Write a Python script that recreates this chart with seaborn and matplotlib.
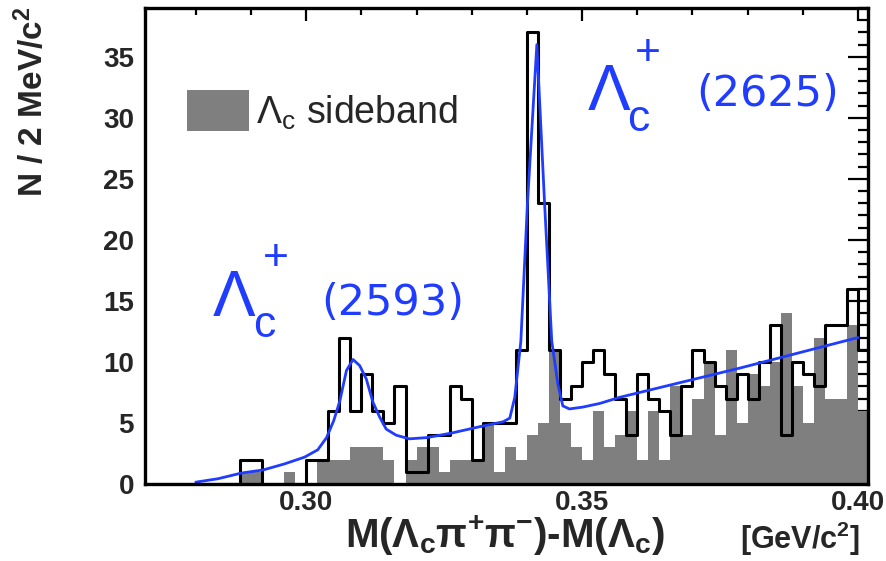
import numpy as np
import pandas as pd
import matplotlib
matplotlib.use("Agg")
import matplotlib.pyplot as plt
import seaborn as sns
from matplotlib.patches import Patch
from matplotlib.ticker import MultipleLocator, FormatStrFormatter

# ---------------- data ----------------
bin_start = 0.270
bin_width = 0.002
data_counts = [0, 0, 0, 0, 0, 0, 0, 0, 0, 2, 2, 0, 0, 0, 0,
               2, 2, 6, 12, 6, 9, 6, 5, 8, 1, 1, 4, 4, 8, 7, 2,
               5, 5, 5, 11, 37, 23, 11, 7, 8, 10, 11, 9, 7, 4, 9,
               7, 6, 4, 8, 11, 10, 8, 7, 9, 7, 10, 13, 4, 10, 9,
               8, 13, 13, 16, 11]
sideband_counts = [0, 0, 0, 0, 0, 0, 0, 0, 0, 1, 1, 0, 0, 1, 0,
                   0, 2, 2, 2, 3, 3, 3, 2, 0, 2, 3, 3, 1, 2, 2, 2,
                   5, 1, 3, 2, 4, 5, 11, 5, 3, 2, 6, 3, 4, 6, 2,
                   6, 2, 8, 4, 7, 10, 4, 11, 5, 9, 8, 10, 14, 8, 5,
                   12, 7, 7, 13, 6]
fit_x = [0.2800, 0.2840, 0.2883, 0.2922, 0.2961, 0.2997, 0.3021, 0.3037,
         0.3050, 0.3061, 0.3073, 0.3085, 0.3097, 0.3109, 0.3121, 0.3133,
         0.3145, 0.3163, 0.3187, 0.3218, 0.3243, 0.3266, 0.3315, 0.3357,
         0.3369, 0.3378, 0.3389, 0.3401, 0.3418, 0.3432, 0.3445, 0.3456,
         0.3465, 0.3477, 0.3501, 0.3532, 0.3568, 0.3786, 0.4000]
fit_y = [0.15, 0.43, 0.9, 1.15, 1.65, 2.2, 2.8, 3.8,
         5.2, 6.8, 9.3, 10.2, 9.7, 8.6, 6.7, 5.5,
         4.5, 4.0, 3.7, 3.8, 4.0, 4.2, 4.7, 5.1,
         5.4, 7.1, 11.7, 23.0, 36.0, 23.0, 11.7, 8.2,
         6.4, 6.15, 6.3, 6.6, 7.1, 9.5, 12.0]
x_ticks = [0.30, 0.35, 0.40]
y_ticks = [0, 5, 10, 15, 20, 25, 30, 35]

n_bins = len(data_counts)
bin_end = bin_start + bin_width * n_bins
centers = bin_start + bin_width * (np.arange(n_bins) + 0.5)
df = pd.DataFrame({"x": centers, "data": data_counts, "side": sideband_counts})
fit_df = pd.DataFrame({"x": fit_x, "y": fit_y})

# ---------------- style ----------------
sns.set_style("white")
plt.rcParams["font.family"] = ["Liberation Sans", "DejaVu Sans"]
plt.rcParams["mathtext.fontset"] = "custom"
plt.rcParams["mathtext.rm"] = "Liberation Sans"
plt.rcParams["mathtext.it"] = "Liberation Sans:italic"
plt.rcParams["mathtext.bf"] = "Liberation Sans:bold"
plt.rcParams["mathtext.default"] = "rm"

W, H = 886, 561
fig = plt.figure(figsize=(W / 100, H / 100), dpi=100)
L, R, T, B = 145, 868, 8, 484
ax = fig.add_axes([L / W, 1 - B / H, (R - L) / W, (B - T) / H])

blue = "#1f3cff"

sns.histplot(data=df, x="x", weights="side", bins=n_bins,
             binrange=(bin_start, bin_end), element="step",
             fill=True, color="#7f7f7f", alpha=1.0, linewidth=0, ax=ax)
sns.histplot(data=df, x="x", weights="data", bins=n_bins,
             binrange=(bin_start, bin_end), element="step",
             fill=False, color="black", linewidth=2.2, ax=ax)
sns.lineplot(data=fit_df, x="x", y="y", color=blue, linewidth=2.0, ax=ax)

ax.set_xlim(0.2708, 0.4018)
ax.set_ylim(0, 39.0)
ax.set_xlabel("")
ax.set_ylabel("")

ax.set_xticks(x_ticks)
ax.set_yticks(y_ticks)
ax.xaxis.set_minor_locator(MultipleLocator(0.01))
ax.yaxis.set_minor_locator(MultipleLocator(1))
ax.xaxis.set_major_formatter(FormatStrFormatter("%.2f"))
ax.tick_params(which="both", direction="in", top=True, right=True,
               width=1.6, color="black")
ax.tick_params(axis="x", which="major", length=9.5, pad=4)
ax.tick_params(axis="x", which="minor", length=4.7)
ax.tick_params(axis="y", which="major", length=14.5, pad=8)
ax.tick_params(axis="y", which="minor", length=7.2)
for lab in ax.get_xticklabels() + ax.get_yticklabels():
    lab.set_fontsize(20)
    lab.set_fontweight("bold")
for s in ax.spines.values():
    s.set_linewidth(2.4)
    s.set_color("black")
    s.set_visible(True)

# legend
leg = ax.legend(handles=[Patch(facecolor="#7f7f7f", edgecolor="none",
                               label=r"$\Lambda_{\rm c}$ sideband")],
                loc="center left",
                bbox_to_anchor=((187 - L) / (R - L), 1 - (111 - T) / (B - T)),
                frameon=False, fontsize=27, handlelength=1.65,
                handleheight=1.3, handletextpad=0.2, borderpad=0,
                borderaxespad=0)

def fx(px):
    return px / W

def fy(py):
    return 1 - py / H

# peak annotations
fig.text(fx(588), fy(110), "Λ", color=blue, fontsize=46, va="baseline", ha="left")
fig.text(fx(627), fy(131), "c", color=blue, fontsize=32, va="baseline", ha="left")
fig.text(fx(648), fy(54), "+", color=blue, fontsize=32, va="center", ha="center")
fig.text(fx(696), fy(106), "(2625)", color=blue, fontsize=31, va="baseline",
         ha="left", family="DejaVu Sans")

fig.text(fx(213), fy(316), "Λ", color=blue, fontsize=46, va="baseline", ha="left")
fig.text(fx(253), fy(337), "c", color=blue, fontsize=32, va="baseline", ha="left")
fig.text(fx(276), fy(258), "+", color=blue, fontsize=32, va="center", ha="center")
fig.text(fx(321), fy(315), "(2593)", color=blue, fontsize=31, va="baseline",
         ha="left", family="DejaVu Sans")

# axis titles
fig.text(fx(32), fy(6), r"N / 2 MeV/c$^{\mathbf{2}}$", rotation=90,
         fontsize=24, fontweight="bold", ha="center", va="top")
fig.text(fx(505), fy(548),
         r"M($\mathbf{\Lambda_c\pi^{+}\pi^{-}}$)-M($\mathbf{\Lambda_c}$)",
         fontsize=29, fontweight="bold", ha="center", va="baseline")
fig.text(fx(860), fy(549), r"[GeV/c$^{\mathbf{2}}$]", fontsize=22,
         fontweight="bold", ha="right", va="baseline")

fig.savefig("out.png", dpi=100)
